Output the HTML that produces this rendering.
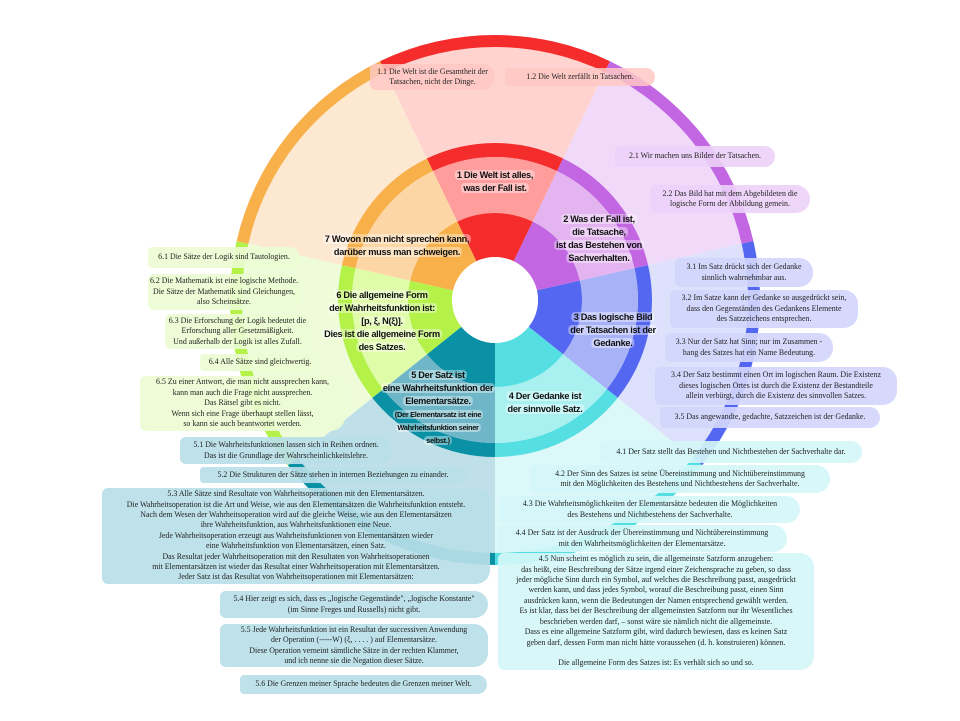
<!DOCTYPE html>
<html><head><meta charset="utf-8"><style>
body{margin:0;width:960px;height:721px;background:#fff;position:relative;overflow:hidden;font-family:"Liberation Serif",serif}
svg{position:absolute;left:0;top:0}
.b{position:absolute;font-size:7.9px;line-height:10.4px;text-align:center;color:#222;border-radius:6px 14px 14px 6px;display:flex;align-items:center;justify-content:center;box-sizing:border-box;padding:0 3px;white-space:nowrap}
.h{position:absolute;font-family:"Liberation Sans",sans-serif;font-weight:bold;font-size:9.2px;line-height:13px;text-align:center;color:#111;transform:translateX(-50%);white-space:nowrap;letter-spacing:-0.3px}
.h span{background:rgba(255,255,255,0.4);border-radius:4px;padding:0 2px}
.r{background:rgba(255,200,196,0.85)}
.p{background:rgba(236,210,248,0.9)}
.bl{background:rgba(210,214,252,0.92)}
.c{background:rgba(212,246,248,0.92)}
.t{background:rgba(184,222,232,0.92)}
.g{background:rgba(236,252,212,0.92)}
</style></head><body>
<svg width="960" height="721" id="s"></svg>
<script>
var cx=495,cy=300,s=document.getElementById('s'),n=7,step=360/n;
var cols=[
['#f52c2c','#ff9c9c','#ffd3cf'],
['#c266e2','#e3b4f0','#f0d9f9'],
['#5467f0','#a8b2f7','#dde1fc'],
['#56dfe2','#a9f0f0','#dcf8f8'],
['#0a91a6','#6fb7c8','#bfe0e8'],
['#b4f24a','#dffca8','#eefcd9'],
['#f8b04a','#fcd6a4','#fde8d2']];
function pt(r,a){a=a*Math.PI/180;return [cx+r*Math.sin(a),cy-r*Math.cos(a)];}
function ann(r1,r2,a1,a2,f){var p1=pt(r2,a1),p2=pt(r2,a2),p3=pt(r1,a2),p4=pt(r1,a1);
var d='M'+p1+'A'+r2+','+r2+' 0 0 1 '+p2+'L'+p3+'A'+r1+','+r1+' 0 0 0 '+p4+'Z';
s.innerHTML+='<path d="'+d+'" fill="'+f+'"/>';}
for(var i=0;i<n;i++){var a1=-step/2+i*step,a2=a1+step,c=cols[i];
ann(157,265,a1,a2,c[2]);
ann(253,265,a1,a2,c[0]);
ann(143,157,a1,a2,c[0]);
ann(87,143,a1,a2,c[1]);
ann(43,87,a1,a2,c[0]);}
s.innerHTML+='<circle cx="'+cx+'" cy="'+cy+'" r="43" fill="#fff"/>';
</script>
<div class="b r" style="left:370px;top:64px;width:125px;height:26px">1.1 Die Welt ist die Gesamtheit der<br>Tatsachen, nicht der Dinge.</div>
<div class="b r" style="left:505px;top:68px;width:150px;height:18px">1.2 Die Welt zerfällt in Tatsachen.</div>
<div class="b p" style="left:615px;top:146px;width:160px;height:21px">2.1 Wir machen uns Bilder der Tatsachen.</div>
<div class="b p" style="left:650px;top:185px;width:160px;height:28px">2.2 Das Bild hat mit dem Abgebildeten die<br>logische Form der Abbildung gemein.</div>
<div class="b bl" style="left:675px;top:258px;width:138px;height:29px">3.1 Im Satz drückt sich der Gedanke<br>sinnlich wahrnehmbar aus.</div>
<div class="b bl" style="left:670px;top:290px;width:188px;height:38px">3.2 Im Satze kann der Gedanke so ausgedrückt sein,<br>dass den Gegenständen des Gedankens Elemente<br>des Satzzeichens entsprechen.</div>
<div class="b bl" style="left:665px;top:333px;width:168px;height:29px">3.3 Nur der Satz hat Sinn; nur im Zusammen -<br>hang des Satzes hat ein Name Bedeutung.</div>
<div class="b bl" style="left:655px;top:367px;width:242px;height:38px">3.4 Der Satz bestimmt einen Ort im logischen Raum. Die Existenz<br>dieses logischen Ortes ist durch die Existenz der Bestandteile<br>allein verbürgt, durch die Existenz des sinnvollen Satzes.</div>
<div class="b bl" style="left:660px;top:407px;width:220px;height:21px">3.5 Das angewandte, gedachte, Satzzeichen ist der Gedanke.</div>
<div class="b c" style="left:600px;top:441px;width:262px;height:22px">4.1 Der Satz stellt das Bestehen und Nichtbestehen der Sachverhalte dar.</div>
<div class="b c" style="left:530px;top:465px;width:300px;height:28px">4.2 Der Sinn des Satzes ist seine Übereinstimmung und Nichtübereinstimmung<br>mit den Möglichkeiten des Bestehens und Nichtbestehens der Sachverhalte.</div>
<div class="b c" style="left:500px;top:496px;width:300px;height:27px">4.3 Die Wahrheitsmöglichkeiten der Elementarsätze bedeuten die Möglichkeiten<br>des Bestehens und Nichtbestehens der Sachverhalte.</div>
<div class="b c" style="left:497px;top:525px;width:290px;height:27px">4.4 Der Satz ist der Ausdruck der Übereinstimmung und Nichtübereinstimmung<br>mit den Wahrheitsmöglichkeiten der Elementarsätze.</div>
<div class="b c" style="left:498px;top:553px;width:316px;height:117px">4.5 Nun scheint es möglich zu sein, die allgemeinste Satzform anzugeben:<br>das heißt, eine Beschreibung der Sätze irgend einer Zeichensprache zu geben, so dass<br>jeder mögliche Sinn durch ein Symbol, auf welches die Beschreibung passt, ausgedrückt<br>werden kann, und dass jedes Symbol, worauf die Beschreibung passt, einen Sinn<br>ausdrücken kann, wenn die Bedeutungen der Namen entsprechend gewählt werden.<br>Es ist klar, dass bei der Beschreibung der allgemeinsten Satzform nur ihr Wesentliches<br>beschrieben werden darf, – sonst wäre sie nämlich nicht die allgemeinste.<br>Dass es eine allgemeine Satzform gibt, wird dadurch bewiesen, dass es keinen Satz<br>geben darf, dessen Form man nicht hätte voraussehen (d. h. konstruieren) können.<br><br>Die allgemeine Form des Satzes ist: Es verhält sich so und so.</div>
<div class="b t" style="left:180px;top:437px;width:212px;height:27px">5.1 Die Wahrheitsfunktionen lassen sich in Reihen ordnen.<br>Das ist die Grundlage der Wahrscheinlichkeitslehre.</div>
<div class="b t" style="left:200px;top:467px;width:266px;height:16px">5.2 Die Strukturen der Sätze stehen in internen Beziehungen zu einander.</div>
<div class="b t" style="left:102px;top:488px;width:388px;height:96px">5.3 Alle Sätze sind Resultate von Wahrheitsoperationen mit den Elementarsätzen.<br>Die Wahrheitsoperation ist die Art und Weise, wie aus den Elementarsätzen die Wahrheitsfunktion entsteht.<br>Nach dem Wesen der Wahrheitsoperation wird auf die gleiche Weise, wie aus den Elementarsätzen<br>ihre Wahrheitsfunktion, aus Wahrheitsfunktionen eine Neue.<br>Jede Wahrheitsoperation erzeugt aus Wahrheitsfunktionen von Elementarsätzen wieder<br>eine Wahrheitsfunktion von Elementarsätzen, einen Satz.<br>Das Resultat jeder Wahrheitsoperation mit den Resultaten von Wahrheitsoperationen<br>mit Elementarsätzen ist wieder das Resultat einer Wahrheitsoperation mit Elementarsätzen.<br>Jeder Satz ist das Resultat von Wahrheitsoperationen mit Elementarsätzen:</div>
<div class="b t" style="left:220px;top:591px;width:268px;height:27px">5.4 Hier zeigt es sich, dass es „logische Gegenstände", „logische Konstante"<br>(im Sinne Freges und Russells) nicht gibt.</div>
<div class="b t" style="left:220px;top:624px;width:268px;height:43px">5.5 Jede Wahrheitsfunktion ist ein Resultat der successiven Anwendung<br>der Operation (-----W) (ξ, . . . . ) auf Elementarsätze.<br>Diese Operation verneint sämtliche Sätze in der rechten Klammer,<br>und ich nenne sie die Negation dieser Sätze.</div>
<div class="b t" style="left:240px;top:675px;width:247px;height:19px">5.6 Die Grenzen meiner Sprache bedeuten die Grenzen meiner Welt.</div>
<div class="b g" style="left:148px;top:247px;width:152px;height:21px">6.1 Die Sätze der Logik sind Tautologien.</div>
<div class="b g" style="left:148px;top:274px;width:152px;height:36px">6.2 Die Mathematik ist eine logische Methode.<br>Die Sätze der Mathematik sind Gleichungen,<br>also Scheinsätze.</div>
<div class="b g" style="left:165px;top:314px;width:145px;height:35px">6.3 Die Erforschung der Logik bedeutet die<br>Erforschung aller Gesetzmäßigkeit.<br>Und außerhalb der Logik ist alles Zufall.</div>
<div class="b g" style="left:200px;top:354px;width:120px;height:17px">6.4 Alle Sätze sind gleichwertig.</div>
<div class="b g" style="left:140px;top:376px;width:205px;height:55px">6.5 Zu einer Antwort, die man nicht aussprechen kann,<br>kann man auch die Frage nicht aussprechen.<br>Das Rätsel gibt es nicht.<br>Wenn sich eine Frage überhaupt stellen lässt,<br>so kann sie auch beantwortet werden.</div>
<div class="h" style="left:495px;top:169px"><span>1 Die Welt ist alles,</span><br><span>was der Fall ist.</span></div>
<div class="h" style="left:599px;top:213px"><span>2 Was der Fall ist,</span><br><span>die Tatsache,</span><br><span>ist das Bestehen von</span><br><span>Sachverhalten.</span></div>
<div class="h" style="left:613px;top:311px"><span>3 Das logische Bild</span><br><span>der Tatsachen ist der</span><br><span>Gedanke.</span></div>
<div class="h" style="left:545px;top:390px"><span>4 Der Gedanke ist</span><br><span>der sinnvolle Satz.</span></div>
<div class="h" style="left:438px;top:369px"><span>5 Der Satz ist</span><br><span>eine Wahrheitsfunktion der</span><br><span>Elementarsätze.</span><br><span style="font-size:7.4px;line-height:11px">(Der Elementarsatz ist eine</span><br><span style="font-size:7.4px;line-height:11px">Wahrheitsfunktion seiner</span><br><span style="font-size:7.4px;line-height:11px">selbst.)</span></div>
<div class="h" style="left:382px;top:289px"><span>6 Die allgemeine Form</span><br><span>der Wahrheitsfunktion ist:</span><br><span>[p, ξ, N(ξ)].</span><br><span>Dies ist die allgemeine Form</span><br><span>des Satzes.</span></div>
<div class="h" style="left:397px;top:233px"><span>7 Wovon man nicht sprechen kann,</span><br><span>darüber muss man schweigen.</span></div>
</body></html>
